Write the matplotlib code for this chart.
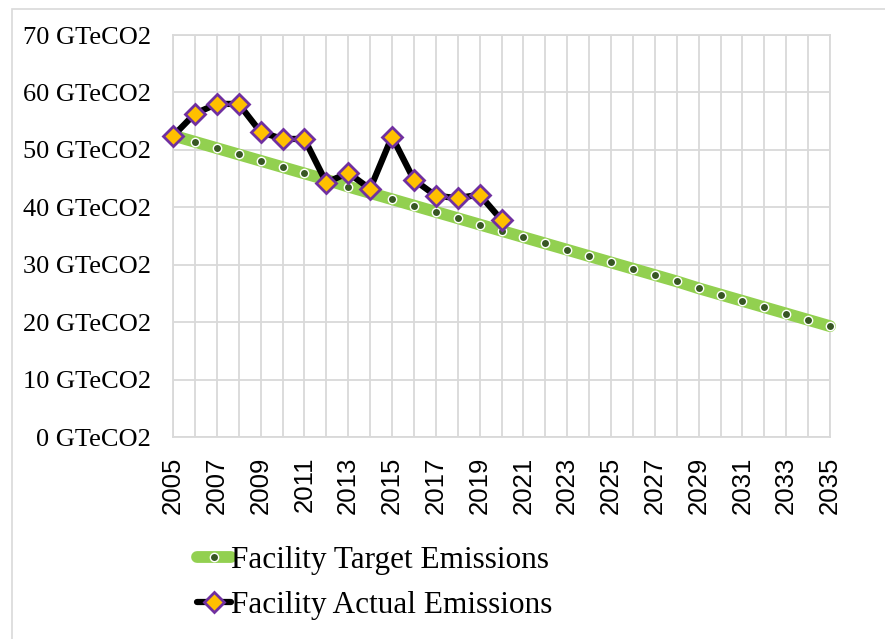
import matplotlib.pyplot as plt
from matplotlib.patches import Rectangle

plt.rcParams["font.family"] = ["Liberation Serif", "DejaVu Serif"]

years = list(range(2005, 2036))
target = [52.5, 51.4, 50.3, 49.2, 48.1, 47.0, 45.9, 44.8, 43.6, 42.5,
          41.4, 40.3, 39.2, 38.1, 37.0, 35.9, 34.8, 33.7, 32.6, 31.5,
          30.4, 29.3, 28.2, 27.1, 25.9, 24.8, 23.7, 22.6, 21.5, 20.4, 19.3]
actual_years = list(range(2005, 2021))
actual = [52.4, 56.3, 58.0, 58.0, 53.1, 51.9, 51.9, 44.3, 46.0, 43.2,
          52.3, 44.8, 42.0, 41.6, 42.2, 37.8]
y_ticks = [0, 10, 20, 30, 40, 50, 60, 70]
y_labels = [f"{v} GTeCO2" for v in y_ticks]
x_ticks = years[::2]

W, H = 885, 639
fig = plt.figure(figsize=(W / 100, H / 100), dpi=100)
fig.patches.append(Rectangle((12 / W, -0.1), 1.2, 1 - 9 / H + 0.1,
                             transform=fig.transFigure, fill=False,
                             edgecolor="#d9d9d9", linewidth=1.2))

ax = fig.add_axes([173 / W, 1 - 437 / H, (830 - 173) / W, (437 - 35) / H])

ax.plot(years, target, color="#92d050", lw=8.5, solid_capstyle="round",
        marker="o", markersize=6, markerfacecolor="#375623",
        markeredgecolor="white", markeredgewidth=1.0, clip_on=False,
        zorder=3, label="Facility Target Emissions")
ax.plot(actual_years, actual, color="black", lw=4.5, solid_capstyle="round",
        marker="D", markersize=10, markerfacecolor="#ffc000",
        markeredgecolor="#7030a0", markeredgewidth=2.0, clip_on=False,
        zorder=4, label="Facility Actual Emissions")

ax.set_xlim(2005, 2035)
ax.set_ylim(0, 70)
ax.set_xticks(years, minor=True)
ax.set_xticks(x_ticks)
ax.set_xticklabels([str(y) for y in x_ticks], rotation=90,
                   fontfamily="Liberation Sans", fontsize=18.5)
ax.set_yticks(y_ticks)
ax.set_yticklabels(y_labels, fontsize=19)
ax.tick_params(axis="both", which="both", length=0)
ax.tick_params(axis="x", pad=14)
ax.tick_params(axis="y", pad=16)
ax.grid(True, which="both", color="#d9d9d9", lw=1.3)
ax.set_axisbelow(True)
for s in ax.spines.values():
    s.set_color("#d9d9d9")
    s.set_linewidth(1.3)

fig.legend(loc="upper left", bbox_to_anchor=(197 / W, 1 - 546 / H),
           frameon=False, fontsize=22.5, handlelength=1.08, handletextpad=0.0,
           labelspacing=0.5, borderpad=0, borderaxespad=0)

fig.savefig("out.png", dpi=100)
